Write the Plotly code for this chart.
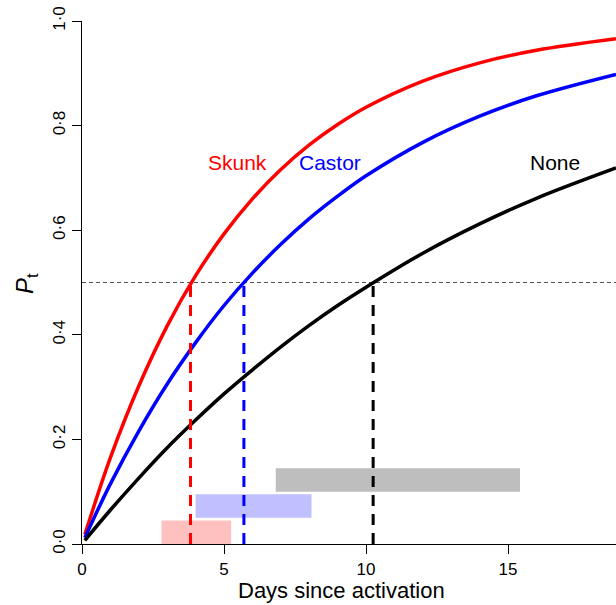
import plotly.graph_objects as go

# ---- data ----
days = [0.1, 1, 2, 3, 4, 5, 6, 7, 8, 9, 10, 12, 14, 16, 18.8]
p_skunk = [0.018, 0.165, 0.302, 0.417, 0.513, 0.593, 0.660, 0.716, 0.763, 0.802, 0.835, 0.885, 0.920, 0.944, 0.966]
p_castor = [0.012, 0.115, 0.216, 0.306, 0.385, 0.456, 0.518, 0.573, 0.622, 0.665, 0.704, 0.768, 0.818, 0.857, 0.898]
p_none = [0.007, 0.065, 0.126, 0.184, 0.237, 0.287, 0.333, 0.377, 0.418, 0.456, 0.491, 0.556, 0.612, 0.661, 0.719]

groups = ["Skunk", "Castor", "None"]
t50 = [3.82, 5.70, 10.25]            # day at which P_t = 0.5
int_lo = [2.80, 4.00, 6.82]          # interval lower bound (days)
int_hi = [5.25, 8.08, 15.42]         # interval upper bound (days)
int_bottom = [0.0, 0.05, 0.10]
int_top = [0.045, 0.095, 0.145]

label_x = [5.49, 8.73, 16.65]
label_y = [0.73, 0.73, 0.73]

x_ticks = [0, 5, 10, 15]
y_ticks = [0.0, 0.2, 0.4, 0.6, 0.8, 1.0]
y_ticktext = ["0·0", "0·2", "0·4", "0·6", "0·8", "1·0"]

colors = ["#FF0000", "#0000FF", "#000000"]
fills = ["#FFC0C0", "#C0C0FF", "#BEBEBE"]

FONT = "Arial, Liberation Sans, Helvetica, sans-serif"

W, H = 616, 605
ML, MR, MT, MB = 82, 0, 21, 61
PW, PH = W - ML - MR, H - MT - MB

fig = go.Figure()

# interval bars
for i in range(3):
    fig.add_shape(type="rect", xref="x", yref="y",
                  x0=int_lo[i], x1=int_hi[i], y0=int_bottom[i], y1=int_top[i],
                  fillcolor=fills[i], line=dict(width=0), layer="below")

# reference line at 0.5
fig.add_trace(go.Scatter(x=[0, 18.8], y=[0.5, 0.5], mode="lines",
                         line=dict(color="#555555", width=1, dash="4px,3px"),
                         hoverinfo="skip", showlegend=False))

# curves
for ys, c, name in zip([p_skunk, p_castor, p_none], colors, groups):
    fig.add_trace(go.Scatter(x=days, y=ys, mode="lines", name=name,
                             line=dict(color=c, width=3.5, shape="spline", smoothing=1.0),
                             showlegend=False))

# vertical dashed lines at t50
for t, c in zip(t50, colors):
    fig.add_trace(go.Scatter(x=[t, t], y=[0, 0.5], mode="lines",
                             line=dict(color=c, width=3, dash="11px,8px"),
                             hoverinfo="skip", showlegend=False))

# curve labels
for g, lx, ly, c in zip(groups, label_x, label_y, colors):
    fig.add_annotation(x=lx, y=ly, xref="x", yref="y", text=g, showarrow=False,
                       font=dict(family=FONT, size=21, color=c))

# axis titles as annotations (pixel-placed)
fig.add_annotation(x=(341 - ML) / PW, y=-(590 - (MT + PH)) / PH, xref="paper", yref="paper",
                   text="Days since activation", showarrow=False,
                   xanchor="center", yanchor="middle",
                   font=dict(family=FONT, size=22, color="black"))
fig.add_annotation(x=-(ML - 26) / PW, y=(MT + PH - 284) / PH, xref="paper", yref="paper",
                   text="<i>P</i><sub>t</sub>", showarrow=False, textangle=-90,
                   xanchor="center", yanchor="middle",
                   font=dict(family=FONT, size=24, color="black"))

fig.update_layout(
    width=W, height=H,
    margin=dict(l=ML, r=MR, t=MT, b=MB, autoexpand=False),
    paper_bgcolor="white", plot_bgcolor="white",
    font=dict(family=FONT, size=17, color="black"),
)
fig.update_xaxes(range=[0, 18.8], tickvals=x_ticks, ticks="outside", ticklen=9,
                 tickwidth=1.3, tickcolor="black", showline=True, linecolor="black",
                 linewidth=1.3, showgrid=False, zeroline=False, automargin=False,
                 ticklabeloverflow="allow", tickfont=dict(family=FONT, size=17))
fig.update_yaxes(range=[0, 1], tickvals=y_ticks, ticktext=y_ticktext, ticks="outside",
                 ticklen=9, tickwidth=1.3, tickcolor="black", showline=True,
                 linecolor="black", linewidth=1.3, showgrid=False, zeroline=False,
                 automargin=False, ticklabeloverflow="allow", tickangle=-90,
                 tickfont=dict(family=FONT, size=17))

fig.write_html("out.html", config={"displayModeBar": False},
               post_script="document.body.style.margin='0';document.body.style.overflow='hidden';")
